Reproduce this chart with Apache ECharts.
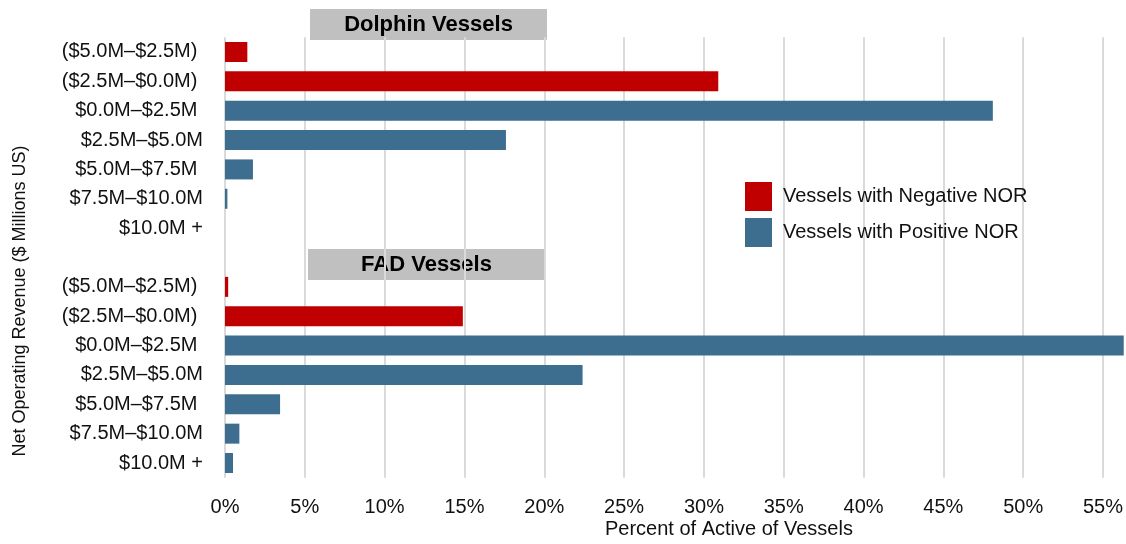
<!DOCTYPE html>
<html>
<head>
<meta charset="utf-8">
<script src="https://cdn.jsdelivr.net/npm/echarts@6/dist/echarts.min.js"></script>
<style>
  html, body { margin: 0; padding: 0; background: #fff; }
  #chart { width: 1126px; height: 544px; }
</style>
</head>
<body>
<div id="chart"></div>
<script>
// revenue bins, top to bottom in each panel
const bins = ["($5.0M–$2.5M) ", "($2.5M–$0.0M) ", "$0.0M–$2.5M ", "$2.5M–$5.0M", "$5.0M–$7.5M ", "$7.5M–$10.0M", "$10.0M +"];
const dolphinNeg = [1.4, 30.9, null, null, null, null, null];
const dolphinPos = [null, null, 48.1, 17.6, 1.75, 0.15, 0];
const fadNeg = [0.2, 14.9, null, null, null, null, null];
const fadPos = [null, null, 56.8, 22.4, 3.45, 0.9, 0.5];
const xTicks = [0, 5, 10, 15, 20, 25, 30, 35, 40, 45, 50, 55];

// one empty row between the two panels holds the FAD header
const categories = [...bins, "", ...bins];
const negValues = [...dolphinNeg, null, ...fadNeg];
const posValues = [...dolphinPos, null, ...fadPos];

function hasFont(name) {
  const ctx = document.createElement("canvas").getContext("2d");
  const s = "Vessels with Negative NOR ($5.0M–$2.5M)";
  ctx.font = "72px monospace";
  const a = ctx.measureText(s).width;
  ctx.font = `72px "${name}", monospace`;
  return ctx.measureText(s).width !== a;
}
const narrow = hasFont("Liberation Sans Narrow");
const FONT = narrow ? '"Liberation Sans Narrow", "Liberation Sans", Arial, sans-serif' : '"Liberation Sans", Arial, sans-serif';
const FS = narrow ? 24 : 20;

const RED = "#c00000";
const BLUE = "#3d6e8f";

const chart = echarts.init(document.getElementById("chart"), null, { renderer: "canvas" });

function header(text, x, y) {
  return {
    type: "group",
    left: x, top: y, z: 100,
    children: [
      { type: "rect", shape: { x: 0, y: 0, width: 237, height: 31 }, style: { fill: "#c0c0c0" } },
      {
        type: "text", x: 118.5, y: 16,
        style: { text, fill: "#000", font: `bold ${FS + 2}px ${FONT}`, align: "center", verticalAlign: "middle" }
      }
    ]
  };
}

chart.setOption({
  animation: false,
  textStyle: { fontFamily: FONT },
  grid: { left: 225, right: 0, top: 37.3, bottom: 66.3, containLabel: false },
  legend: {
    orient: "vertical",
    left: 745, top: 182,
    padding: 0,
    itemWidth: 27, itemHeight: 29, itemGap: 7,
    icon: "rect",
    textStyle: { fontSize: FS, color: "#111", fontFamily: FONT, padding: [0, 0, 0, 6] },
    data: ["Vessels with Negative NOR", "Vessels with Positive NOR"]
  },
  xAxis: {
    type: "value",
    min: 0, max: 56.3, interval: 5,
    axisLine: { show: false },
    axisTick: { show: false },
    axisLabel: {
      showMaxLabel: false,
      fontSize: FS, color: "#111", fontFamily: FONT, margin: 20,
      formatter: (v) => (xTicks.includes(v) ? v + "%" : "")
    },
    splitLine: { show: true, showMaxLine: false, lineStyle: { color: "#dadada", width: 2 } }
  },
  yAxis: {
    type: "category",
    inverse: true,
    data: categories,
    axisLine: { show: false },
    axisTick: { show: false },
    splitLine: { show: false },
    axisLabel: { fontSize: FS, color: "#111", fontFamily: FONT, margin: 22, interval: 0 }
  },
  series: [
    {
      name: "Vessels with Negative NOR",
      type: "bar", stack: "all",
      barWidth: 20,
      itemStyle: { color: RED },
      data: negValues
    },
    {
      name: "Vessels with Positive NOR",
      type: "bar", stack: "all",
      barWidth: 20,
      itemStyle: { color: BLUE },
      data: posValues
    }
  ],
  graphic: [
    header("Dolphin Vessels", 310, 9),
    header("FAD Vessels", 308, 249),
    {
      type: "text", left: 605, top: 519,
      style: { text: "Percent of Active of Vessels", fill: "#111", font: `${FS}px ${FONT}` }
    },
    {
      type: "text", x: 20, y: 301, rotation: Math.PI / 2,
      style: { text: "Net Operating Revenue ($ Millions US)", fill: "#111", font: `${FS - 2}px ${FONT}`, align: "center", verticalAlign: "middle" }
    }
  ]
});
</script>
</body>
</html>
